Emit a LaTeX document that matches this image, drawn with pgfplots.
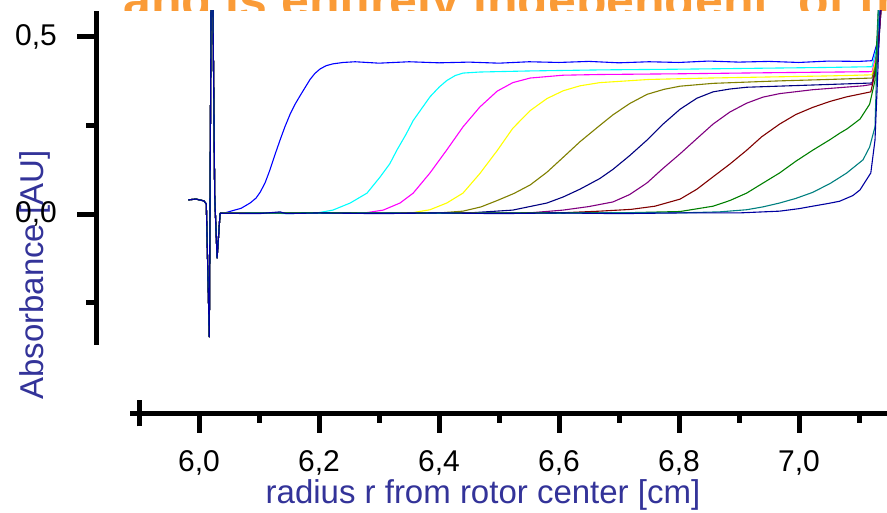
\documentclass[border=0pt]{standalone}
\usepackage{pgfplots}
\pgfplotsset{compat=1.18}
\usepackage{fontspec}
\setmainfont{Liberation Sans}

\definecolor{labblue}{RGB}{51,51,153}
\definecolor{slideorange}{RGB}{250,155,55}
\definecolor{cBlue}{RGB}{0,0,255}
\definecolor{cCyan}{RGB}{0,255,255}
\definecolor{cMagenta}{RGB}{255,0,255}
\definecolor{cYellow}{RGB}{255,255,0}
\definecolor{cOlive}{RGB}{128,128,0}
\definecolor{cNavy}{RGB}{0,0,128}
\definecolor{cPurple}{RGB}{128,0,128}
\definecolor{cWine}{RGB}{128,0,0}
\definecolor{cGreen}{RGB}{0,128,0}
\definecolor{cTeal}{RGB}{0,128,128}
\definecolor{cRoyal}{RGB}{0,0,160}

\pgfplotsset{
  axisfont/.style={font=\fontsize{30}{30}\selectfont},
}

\begin{document}
\begin{tikzpicture}[x=1pt,y=1pt]
% slide title, partly hidden behind the chart
\node[anchor=base west, text=slideorange, inner sep=0,
      font=\bfseries\fontsize{50}{50}\selectfont] at (123,494)
      {and is entirely independent\ \ of the same};

% scans
\begin{axis}[
    at={(0,0)}, anchor=south west,
    scale only axis, width=887pt, height=501pt,
    xmin=5.668, xmax=7.147, ymin=-0.8418, ymax=0.5734,
    axis line style={draw=none}, ticks=none,
    axis background/.style={fill=white},
    xlabel={radius r from rotor center [cm]},
    ylabel={Absorbance [AU]},
    xlabel style={at={(axis description cs:0.5445,0.016)}, anchor=base, inner sep=0pt,
                  font=\fontsize{33}{33}\selectfont, text=labblue},
    ylabel style={at={(axis description cs:0.0485,0.473)}, anchor=base, inner sep=1pt,
                  font=\fontsize{33}{33}\selectfont, text=labblue},
    every axis plot/.append style={line width=1.1pt, line join=round},
  ]
  \addplot[cBlue] coordinates {(5.982,0.040) (5.995,0.042) (6.008,0.037) (6.012,0.028) (6.017,-0.347) (6.020,0.6) (6.023,0.6) (6.026,0.05) (6.030,-0.124) (6.035,0.002)
    (6.045,0.004) (6.057,0.010) (6.070,0.016) (6.085,0.031) (6.095,0.045) (6.102,0.062) (6.110,0.088) (6.118,0.124) (6.127,0.170) (6.135,0.209) (6.143,0.246) (6.152,0.283) (6.160,0.310) (6.168,0.333) (6.177,0.358) (6.185,0.380) (6.193,0.397) (6.202,0.410) (6.212,0.419) (6.223,0.424) (6.240,0.428) (6.26,0.430) (6.30,0.426) (6.35,0.430) (6.40,0.427) (6.45,0.429) (6.50,0.426) (6.55,0.430) (6.60,0.428) (6.65,0.431) (6.70,0.427) (6.75,0.430) (6.80,0.428) (6.85,0.432) (6.90,0.429) (6.95,0.431) (7.00,0.428) (7.05,0.432) (7.10,0.431) (7.122,0.433) (7.130,0.48) (7.137,0.6)};
  \addplot[cCyan] coordinates {(5.982,0.040) (5.995,0.042) (6.008,0.037) (6.012,0.028) (6.017,-0.347) (6.020,0.6) (6.023,0.6) (6.026,0.05) (6.030,-0.124) (6.035,0.002)
    (6.10,0.003) (6.15,0.001) (6.20,0.004) (6.223,0.011) (6.252,0.031) (6.280,0.059) (6.302,0.105) (6.318,0.142) (6.330,0.181) (6.345,0.225) (6.357,0.264) (6.372,0.300) (6.385,0.331) (6.400,0.358) (6.413,0.377) (6.427,0.391) (6.440,0.398) (6.468,0.401) (6.55,0.404) (6.668,0.407) (6.80,0.409) (6.95,0.412) (7.05,0.414) (7.122,0.416) (7.130,0.47) (7.137,0.6)};
  \addplot[cMagenta] coordinates {(5.982,0.040) (5.995,0.042) (6.008,0.037) (6.012,0.028) (6.017,-0.347) (6.020,0.6) (6.023,0.6) (6.026,0.05) (6.030,-0.124) (6.035,0.002)
    (6.10,0.002) (6.20,0.003) (6.28,0.004) (6.307,0.011) (6.335,0.031) (6.357,0.059) (6.385,0.116) (6.413,0.181) (6.440,0.246) (6.468,0.302) (6.497,0.347) (6.523,0.371) (6.552,0.384) (6.607,0.392) (6.668,0.394) (6.80,0.396) (6.95,0.399) (7.122,0.402) (7.131,0.46) (7.138,0.6)};
  \addplot[cYellow] coordinates {(5.982,0.040) (5.995,0.042) (6.008,0.037) (6.012,0.028) (6.017,-0.347) (6.020,0.6) (6.023,0.6) (6.026,0.05) (6.030,-0.124) (6.035,0.002)
    (6.10,0.003) (6.20,0.002) (6.30,0.003) (6.357,0.004) (6.385,0.012) (6.413,0.031) (6.440,0.059) (6.468,0.114) (6.497,0.179) (6.523,0.242) (6.552,0.292) (6.580,0.326) (6.607,0.348) (6.635,0.362) (6.668,0.371) (6.75,0.380) (6.85,0.384) (6.95,0.387) (7.05,0.390) (7.122,0.393) (7.131,0.45) (7.138,0.6)};
  \addplot[cOlive] coordinates {(5.982,0.040) (5.995,0.042) (6.008,0.037) (6.012,0.028) (6.017,-0.347) (6.020,0.6) (6.023,0.6) (6.026,0.05) (6.030,-0.124) (6.035,0.002)
    (6.10,0.002) (6.20,0.004) (6.30,0.002) (6.40,0.003) (6.440,0.008) (6.470,0.020) (6.497,0.038) (6.525,0.058) (6.552,0.082) (6.580,0.118) (6.607,0.160) (6.635,0.204) (6.668,0.250) (6.690,0.280) (6.718,0.312) (6.747,0.338) (6.775,0.352) (6.802,0.361) (6.857,0.369) (6.968,0.376) (7.05,0.380) (7.122,0.384) (7.131,0.44) (7.138,0.6)};
  \addplot[cNavy] coordinates {(5.982,0.040) (5.995,0.042) (6.008,0.037) (6.012,0.028) (6.017,-0.347) (6.020,0.6) (6.023,0.6) (6.026,0.05) (6.030,-0.124) (6.035,0.002)
    (6.10,0.003) (6.20,0.002) (6.30,0.004) (6.40,0.002) (6.45,0.003) (6.523,0.011) (6.580,0.031) (6.607,0.048) (6.635,0.070) (6.668,0.100) (6.690,0.126) (6.718,0.165) (6.747,0.209) (6.773,0.253) (6.802,0.296) (6.830,0.327) (6.857,0.345) (6.885,0.353) (6.913,0.358) (7.00,0.363) (7.122,0.370) (7.131,0.43) (7.138,0.6)};
  \addplot[cPurple] coordinates {(5.982,0.040) (5.995,0.042) (6.008,0.037) (6.012,0.028) (6.017,-0.347) (6.020,0.6) (6.023,0.6) (6.026,0.05) (6.030,-0.124) (6.035,0.002)
    (6.10,0.002) (6.20,0.003) (6.30,0.002) (6.40,0.004) (6.50,0.002) (6.55,0.003) (6.607,0.011) (6.650,0.021) (6.690,0.034) (6.718,0.055) (6.747,0.088) (6.773,0.128) (6.802,0.170) (6.830,0.213) (6.857,0.254) (6.885,0.288) (6.913,0.313) (6.940,0.330) (6.968,0.340) (7.023,0.351) (7.107,0.362) (7.122,0.366) (7.131,0.43) (7.138,0.6)};
  \addplot[cWine] coordinates {(5.982,0.040) (5.995,0.042) (6.008,0.037) (6.012,0.028) (6.017,-0.347) (6.020,0.6) (6.023,0.6) (6.026,0.05) (6.030,-0.124) (6.035,0.002)
    (6.10,0.003) (6.20,0.002) (6.30,0.003) (6.40,0.002) (6.50,0.004) (6.60,0.003) (6.668,0.008) (6.720,0.013) (6.760,0.022) (6.802,0.042) (6.830,0.070) (6.857,0.105) (6.885,0.141) (6.913,0.180) (6.938,0.218) (6.968,0.254) (6.995,0.281) (7.023,0.301) (7.052,0.318) (7.080,0.331) (7.120,0.345) (7.130,0.42) (7.137,0.6)};
  \addplot[cGreen] coordinates {(5.982,0.040) (5.995,0.042) (6.008,0.037) (6.012,0.028) (6.017,-0.347) (6.020,0.6) (6.023,0.6) (6.026,0.05) (6.030,-0.124) (6.035,0.002)
    (6.10,0.002) (6.20,0.004) (6.30,0.002) (6.40,0.003) (6.50,0.002) (6.60,0.004) (6.70,0.003) (6.802,0.007) (6.857,0.022) (6.885,0.038) (6.913,0.059) (6.938,0.085) (6.968,0.116) (6.995,0.149) (7.023,0.180) (7.052,0.210) (7.068,0.228) (7.080,0.240) (7.102,0.268) (7.118,0.310) (7.127,0.377) (7.133,0.6)};
  \addplot[cTeal] coordinates {(5.982,0.040) (5.995,0.042) (6.008,0.037) (6.012,0.028) (6.017,-0.347) (6.020,0.6) (6.023,0.6) (6.026,0.05) (6.030,-0.124) (6.035,0.002)
    (6.10,0.003) (6.20,0.002) (6.30,0.003) (6.40,0.002) (6.50,0.003) (6.60,0.002) (6.70,0.004) (6.80,0.003) (6.868,0.006) (6.913,0.012) (6.940,0.020) (6.968,0.031) (6.995,0.044) (7.023,0.061) (7.052,0.086) (7.068,0.103) (7.080,0.116) (7.107,0.153) (7.118,0.189) (7.127,0.246) (7.133,0.6)};
  \addplot[cRoyal] coordinates {(5.982,0.040) (5.995,0.042) (6.008,0.037) (6.012,0.028) (6.017,-0.347) (6.020,0.6) (6.023,0.6) (6.026,0.05) (6.030,-0.124) (6.035,0.002)
    (6.10,0.001) (6.135,0.006) (6.145,0.001) (6.20,0.003) (6.30,0.001) (6.40,0.003) (6.50,0.001) (6.60,0.003) (6.70,0.001) (6.80,0.003) (6.90,0.003) (6.968,0.008) (7.000,0.015) (7.023,0.022) (7.050,0.030) (7.068,0.036) (7.090,0.052) (7.102,0.068) (7.120,0.116) (7.127,0.209) (7.132,0.415) (7.136,0.6)};
\end{axis}

% detached y axis
\begin{axis}[
    at={(97pt,167pt)}, anchor=south west,
    scale only axis, width=1pt, height=334pt,
    xmin=0, xmax=1, ymin=-0.370, ymax=0.5734,
    axis x line=none, axis y line=left,
    axis line style={line width=5pt, -},
    ytick={0,0.5}, minor ytick={-0.25,0.25},
    tick align=outside, major tick length=20pt, minor tick length=11pt,
    major tick style={line width=5pt, black},
    minor tick style={line width=5pt, black},
    /pgf/number format/.cd, use comma, fixed, fixed zerofill, precision=1, assume math mode=true,
    /pgfplots/.cd,
    yticklabel style={axisfont, black, inner sep=1pt, xshift=-19pt},
  ]
\end{axis}

% detached x axis
\begin{axis}[
    at={(130pt,99pt)}, anchor=south west,
    scale only axis, width=765pt, height=1pt,
    xmin=5.885, xmax=7.16, ymin=0, ymax=1,
    axis y line=none, axis x line=bottom,
    axis line style={line width=5pt, -},
    xtick={6,6.2,6.4,6.6,6.8,7},
    minor xtick={6.1,6.3,6.5,6.7,6.9,7.1},
    extra x ticks={5.9}, extra x tick labels={},
    extra x tick style={tick align=center, major tick length=27pt},
    tick align=outside, major tick length=20pt, minor tick length=10pt,
    major tick style={line width=5pt, black},
    minor tick style={line width=5pt, black},
    /pgf/number format/.cd, use comma, fixed, fixed zerofill, precision=1, assume math mode=true,
    /pgfplots/.cd,
    xticklabel style={axisfont, black, inner sep=0.5pt, yshift=-17pt},
  ]
\end{axis}

\pgfresetboundingbox
\path[use as bounding box] (0,0) rectangle (887,512);
\end{tikzpicture}
\end{document}
